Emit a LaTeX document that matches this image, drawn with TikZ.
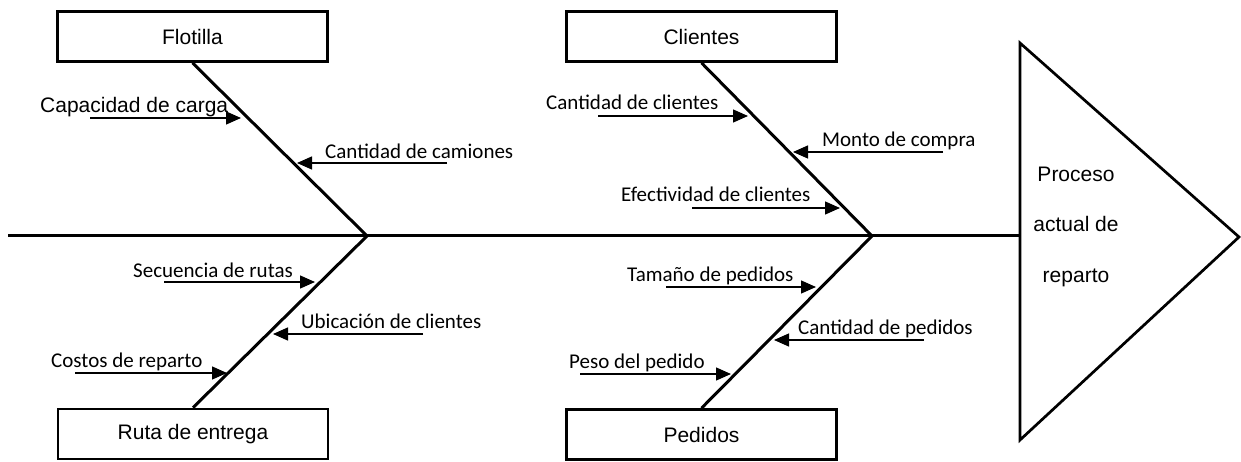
\documentclass[tikz,border=0pt]{standalone}
\usepackage{fontspec}
\setmainfont{Liberation Sans}
\newfontfamily\calfont{Carlito}
\usetikzlibrary{arrows.meta}
\begin{document}
\begin{tikzpicture}[x=1pt,y=-1pt,
  box/.style={draw,line width=2.7pt,minimum width=270pt,minimum height=50pt,inner sep=0pt,font=\fontsize{21}{25}\selectfont},
  bone/.style={line width=3pt},
  arr/.style={line width=1.3pt,-{Triangle[length=15pt,width=13pt]}},
  lblA/.style={anchor=base west,inner sep=0pt,font=\fontsize{21}{25}\selectfont},
  lblC/.style={anchor=base west,inner sep=0pt,font=\calfont\fontsize{21}{25}\selectfont},
  ttxt/.style={anchor=base,inner sep=0pt,font=\fontsize{21}{25}\selectfont}]
\useasboundingbox (0,0) rectangle (1241,462);

% boxes
\node[box] (flot) at (192.5,36.5) {Flotilla};
\node[box] (ruta) at (193,434) {Ruta de entrega};
\node[box] (clie) at (701.5,36.5) {Clientes};
\node[box] (pedi) at (701.5,434.5) {Pedidos};

% spine and head
\coordinate (s0) at (8,236);
\coordinate (j1) at (367,236);
\coordinate (j2) at (872,236);
\coordinate (hl) at (1020,236);
\coordinate (ht) at (1020,43);
\coordinate (ha) at (1239,237);
\coordinate (hb) at (1020,440);
\draw[bone] (s0) -- (hl);
\draw[line width=2.7pt,line join=miter] (ht) -- (ha) -- (hb) -- cycle;
\node[ttxt] (h1) at (1076,182) {Proceso};
\node[ttxt] (h2) at (1076,232) {actual de};
\node[ttxt] (h3) at (1076,282) {reparto};

% bones
\draw[bone] (flot.south) -- (j1);
\draw[bone] (ruta.north) -- (j1);
\draw[bone] (clie.south) -- (j2);
\draw[bone] (pedi.north) -- (j2);

% Flotilla causes
\node[lblA] (t1) at (40,113) {Capacidad de carga};
\coordinate (a1s) at (90,118); \coordinate (a1e) at (241,118);
\draw[arr] (a1s) -- (a1e);
\node[lblC] (t2) at (325,159) {Cantidad de camiones};
\coordinate (a2s) at (447,163); \coordinate (a2e) at (297,163);
\draw[arr] (a2s) -- (a2e);

% Clientes causes
\node[lblC] (t3) at (546,110) {Cantidad de clientes};
\coordinate (a3s) at (598,116); \coordinate (a3e) at (748,116);
\draw[arr] (a3s) -- (a3e);
\node[lblC] (t4) at (822,147) {Monto de compra};
\coordinate (a4s) at (943,152); \coordinate (a4e) at (793,152);
\draw[arr] (a4s) -- (a4e);
\node[lblC] (t5) at (621,202) {Efectividad de clientes};
\coordinate (a5s) at (692,208); \coordinate (a5e) at (840,208);
\draw[arr] (a5s) -- (a5e);

% Ruta causes
\node[lblC] (t6) at (133,277) {Secuencia de rutas};
\coordinate (a6s) at (164,282); \coordinate (a6e) at (315,282);
\draw[arr] (a6s) -- (a6e);
\node[lblC] (t7) at (301,328) {Ubicación de clientes};
\coordinate (a7s) at (423,334); \coordinate (a7e) at (273,334);
\draw[arr] (a7s) -- (a7e);
\node[lblC] (t8) at (51,367) {Costos de reparto};
\coordinate (a8s) at (75,373); \coordinate (a8e) at (227,373);
\draw[arr] (a8s) -- (a8e);

% Pedidos causes
\node[lblC] (t9) at (627,281) {Tamaño de pedidos};
\coordinate (a9s) at (666,287); \coordinate (a9e) at (816,287);
\draw[arr] (a9s) -- (a9e);
\node[lblC] (t10) at (798,334) {Cantidad de pedidos};
\coordinate (a10s) at (924,340); \coordinate (a10e) at (774,340);
\draw[arr] (a10s) -- (a10e);
\node[lblC] (t11) at (569,368) {Peso del pedido};
\coordinate (a11s) at (580,374); \coordinate (a11e) at (731,374);
\draw[arr] (a11s) -- (a11e);
\end{tikzpicture}
\end{document}
